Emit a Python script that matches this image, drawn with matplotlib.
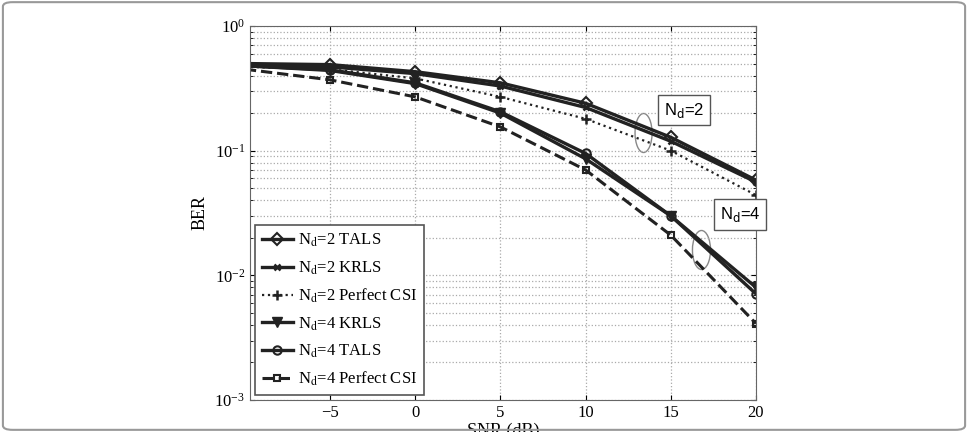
import matplotlib
matplotlib.use("Agg")
import matplotlib.pyplot as plt
from matplotlib.patches import Ellipse, FancyBboxPatch

plt.rcParams['font.family'] = ['Liberation Serif', 'DejaVu Serif']
plt.rcParams['mathtext.fontset'] = 'stix'

snr = [-10, -5, 0, 5, 10, 15, 20]
nd2_tals = [0.50, 0.49, 0.43, 0.35, 0.24, 0.128, 0.058]
nd2_krls = [0.49, 0.47, 0.415, 0.33, 0.222, 0.119, 0.056]
nd2_pcsi = [0.47, 0.45, 0.38, 0.27, 0.18, 0.100, 0.044]
nd4_krls = [0.48, 0.44, 0.345, 0.20, 0.086, 0.030, 0.0080]
nd4_tals = [0.48, 0.445, 0.35, 0.205, 0.095, 0.030, 0.0071]
nd4_pcsi = [0.45, 0.37, 0.27, 0.155, 0.070, 0.021, 0.0041]

labels = [r'N$_{\rm d}$=2 TALS', r'N$_{\rm d}$=2 KRLS', r'N$_{\rm d}$=2 Perfect CSI',
          r'N$_{\rm d}$=4 KRLS', r'N$_{\rm d}$=4 TALS', r'N$_{\rm d}$=4 Perfect CSI']

fig = plt.figure(figsize=(9.68, 4.32), dpi=100)
ax = fig.add_axes([250/968, 1-400/432, 506/968, 374/432])

c = '#222222'
ax.semilogy(snr, nd2_tals, '-', color=c, lw=2.4, marker='D', ms=6, mfc='none', mew=1.5, label=labels[0])
ax.semilogy(snr, nd2_krls, '-', color=c, lw=2.4, marker='x', ms=5, mew=1.8, label=labels[1])
ax.semilogy(snr, nd2_pcsi, ':', color=c, lw=1.6, marker='+', ms=7, mew=1.8, label=labels[2])
ax.semilogy(snr, nd4_krls, '-', color=c, lw=2.4, marker='v', ms=7, label=labels[3])
ax.semilogy(snr, nd4_tals, '-', color=c, lw=2.4, marker='o', ms=6, mfc='none', mew=1.5, label=labels[4])
ax.semilogy(snr, nd4_pcsi, '--', color=c, lw=2.2, marker='s', ms=5, mfc='none', mew=1.5, label=labels[5])

ax.set_xlim(-9.7, 20)
ax.set_ylim(1e-3, 1)
ax.set_xticks([-5, 0, 5, 10, 15, 20])
ax.set_xticklabels(['\u22125', '0', '5', '10', '15', '20'])
ax.grid(True, which='major', axis='x', linestyle=':', color='#aaaaaa', lw=0.9)
ax.grid(True, which='both', axis='y', linestyle=':', color='#aaaaaa', lw=0.9)
ax.tick_params(which='both', direction='in', labelsize=12, top=True, right=True)
for s in ax.spines.values():
    s.set_color('#666666')

ax.set_xlabel('SNR (dB)', fontsize=13, labelpad=1)
ax.set_ylabel('BER', fontsize=13)

leg = ax.legend(loc='lower left', fontsize=12, handlelength=1.9, handletextpad=0.3,
                borderaxespad=0.3, borderpad=0.4,
                fancybox=False, edgecolor='#555555', framealpha=1, labelspacing=0.6)
leg.get_frame().set_linewidth(1.2)

def add_ell(xc, ypx, w, hpx):
    yf = (400 - ypx) / 374
    hf = hpx / 374
    xf = (xc + 9.7) / 29.7
    wf = w / 29.7
    ax.add_patch(Ellipse((xf, yf), wf, hf, transform=ax.transAxes, fill=False, ec='#888888', lw=1))
add_ell(13.4, 133, 1.0, 39)
add_ell(16.8, 250, 1.06, 39)

ax.text(15.8, 10**(-(110-26)/124.5), r'N$_{\rm d}$=2', fontsize=12, family=['Liberation Sans'],
        ha='center', va='center', math_fontfamily='dejavusans',
        bbox=dict(boxstyle='square,pad=0.35', fc='white', ec='#555555', lw=1))
ax.text(19.05, 10**(-(214-26)/124.5), r'N$_{\rm d}$=4', fontsize=12, family=['Liberation Sans'],
        ha='center', va='center', math_fontfamily='dejavusans',
        bbox=dict(boxstyle='square,pad=0.35', fc='white', ec='#555555', lw=1))

fig.patches.append(FancyBboxPatch((0.003, 0.005), 0.994, 0.99, boxstyle='round,pad=0,rounding_size=0.01',
                                  transform=fig.transFigure, fill=False, ec='#999999', lw=1.5))

fig.savefig('out.png', dpi=100)
